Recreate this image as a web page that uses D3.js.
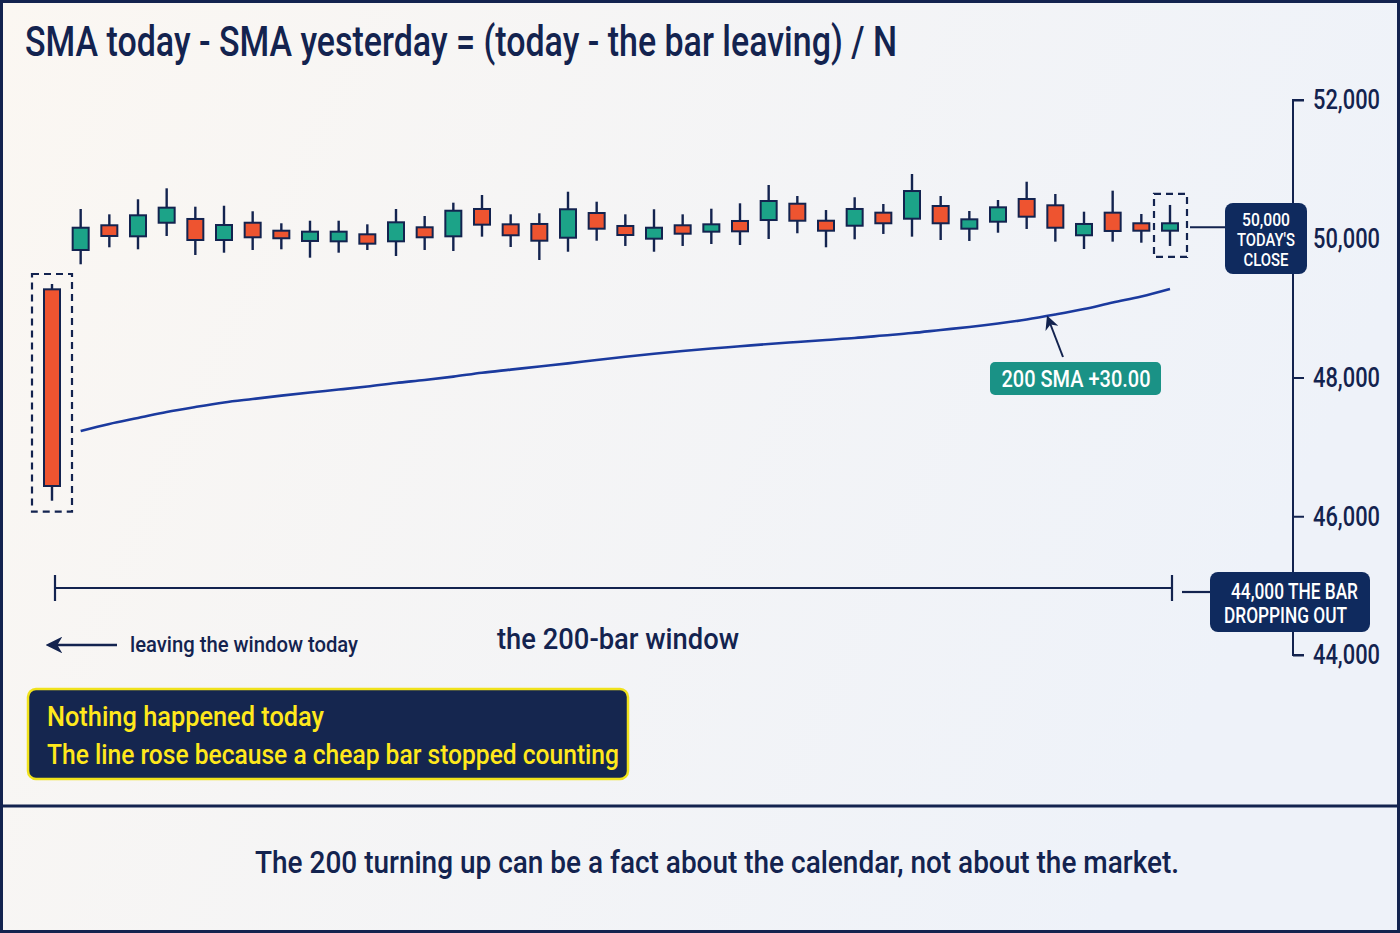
<!DOCTYPE html>
<html>
<head>
<meta charset="utf-8">
<script src="https://cdn.jsdelivr.net/npm/d3@7"></script>
<style>
  html, body { margin: 0; padding: 0; background: #fff; }
  svg { display: block; }
  text { font-family: Roboto, "Liberation Sans", sans-serif; font-weight: 500; }
</style>
</head>
<body>
<svg id="chart"></svg>
<script>
// bar 0 is the old bar leaving the window, bar 39 is today
const opens  = [49271, 49838, 50194, 50035, 50231, 50285, 49982, 50231, 50116, 49968, 49963, 50064, 49963, 50165, 50035, 50429, 50208, 50213, 50015, 50371, 50184, 50001, 50194, 50102, 50256, 50270, 50505, 50260, 50188, 50376, 50289, 50472, 50145, 50246, 50573, 50482, 50050, 50376, 50223, 50116];
const closes = [46436, 50159, 50040, 50338, 50448, 49982, 50198, 50021, 50007, 50102, 50102, 49929, 50237, 50021, 50404, 50203, 50050, 49972, 50425, 50145, 50054, 50159, 50073, 50208, 50107, 50544, 50260, 50116, 50429, 50223, 50688, 50223, 50280, 50453, 50318, 50159, 50213, 50112, 50116, 50223];
const highs  = [49348, 50429, 50352, 50569, 50727, 50462, 50476, 50396, 50223, 50260, 50260, 50208, 50429, 50328, 50520, 50631, 50352, 50367, 50678, 50534, 50352, 50425, 50352, 50433, 50511, 50775, 50616, 50414, 50598, 50501, 50933, 50616, 50400, 50559, 50822, 50645, 50390, 50693, 50357, 50487];
const lows   = [46224, 49632, 49877, 49848, 50040, 49766, 49799, 49838, 49848, 49727, 49799, 49838, 49751, 49838, 49823, 50030, 49881, 49694, 49813, 49972, 49896, 49813, 49896, 49924, 49910, 49996, 50079, 49877, 49992, 50069, 50030, 49982, 49968, 50087, 50141, 49958, 49852, 49958, 49943, 49896];

// 200 SMA, from bar 1 to bar 39
const smaValues = [47229, 47330, 47416, 47503, 47575, 47640, 47690, 47739, 47784, 47826, 47870, 47921, 47964, 48013, 48069, 48114, 48159, 48203, 48252, 48298, 48342, 48382, 48418, 48450, 48483, 48512, 48541, 48569, 48605, 48641, 48685, 48728, 48778, 48836, 48908, 48987, 49081, 49168, 49276];

const tickValues = [44000, 46000, 48000, 50000, 52000];

const titleText = "SMA today - SMA yesterday = (today - the bar leaving) / N";
const closeLabel = ["50,000", "TODAY'S", "CLOSE"];
const dropLabel = ["44,000 THE BAR", "DROPPING OUT"];
const smaLabel = "200 SMA +30.00";
const windowLabel = "the 200-bar window";
const leavingLabel = "leaving the window today";
const noteLines = ["Nothing happened today", "The line rose because a cheap bar stopped counting"];
const footerText = "The 200 turning up can be a fact about the calendar, not about the market.";

const W = 1400, H = 933;
const navy = "#13234f";
const green = "#1ca388";
const red = "#ee5430";

// the reference uses a condensed face, so squeeze each text run to its width
function squeeze(sel, len) {
  return sel.attr("textLength", len).attr("lengthAdjust", "spacingAndGlyphs");
}

const svg = d3.select("#chart").attr("width", W).attr("height", H);

// background
const defs = svg.append("defs");
const bg = defs.append("linearGradient").attr("id", "bg").attr("x1", 0).attr("x2", 1).attr("y1", 0).attr("y2", 0.3);
bg.append("stop").attr("offset", 0).attr("stop-color", "#fbf7f2");
bg.append("stop").attr("offset", 1).attr("stop-color", "#eef2f9");
defs.append("marker").attr("id", "arrow")
    .attr("viewBox", "0 0 10 10").attr("refX", 8).attr("refY", 5)
    .attr("markerWidth", 7).attr("markerHeight", 7).attr("orient", "auto-start-reverse")
  .append("path").attr("d", "M0,0 L10,5 L0,10 L3,5 z").attr("fill", navy);

svg.append("rect").attr("width", W).attr("height", H).attr("fill", "url(#bg)");
svg.append("rect").attr("x", 1.5).attr("y", 1.5).attr("width", W - 3).attr("height", H - 3)
    .attr("fill", "none").attr("stroke", navy).attr("stroke-width", 3);
svg.append("line").attr("x1", 0).attr("x2", W).attr("y1", 806).attr("y2", 806)
    .attr("stroke", navy).attr("stroke-width", 3);

// scales
const x = d3.scaleLinear().domain([0, opens.length - 1]).range([52, 1170]);
const y = d3.scaleLinear().domain([44000, 52000]).range([655, 100]);

// title
squeeze(svg.append("text").attr("x", 25).attr("y", 56)
    .attr("fill", navy).attr("font-size", 42).attr("font-weight", 700)
    .text(titleText), 872);

// axis on the right
const yAxis = d3.axisRight(y).tickValues(tickValues).tickFormat(d3.format(",")).tickSize(11).tickPadding(9);
const axisG = svg.append("g").attr("transform", "translate(1293,0)").call(yAxis);
axisG.select(".domain").attr("stroke", navy).attr("stroke-width", 2).attr("d", `M11,${y(52000)}H0V${y(44000)}H11`);
axisG.selectAll(".tick line").attr("stroke", navy).attr("stroke-width", 2);
axisG.selectAll(".tick text").attr("fill", navy).attr("font-size", 28)
    .attr("font-family", "Roboto, sans-serif").attr("font-weight", 500)
    .attr("textLength", 67).attr("lengthAdjust", "spacingAndGlyphs");

// SMA line
const smaData = smaValues.map((v, i) => ({ i: i + 1, v }));
svg.append("path").datum(smaData)
    .attr("fill", "none").attr("stroke", "#1b3a9e").attr("stroke-width", 2.6)
    .attr("d", d3.line().x(d => x(d.i)).y(d => y(d.v)).curve(d3.curveMonotoneX));

// candles
const bars = opens.map((o, i) => ({ i, o, c: closes[i], h: highs[i], l: lows[i] }));
const bodyW = 16;
const candle = svg.append("g").selectAll("g").data(bars).join("g");
candle.append("line")
    .attr("x1", d => x(d.i)).attr("x2", d => x(d.i))
    .attr("y1", d => y(d.h)).attr("y2", d => y(d.l))
    .attr("stroke", navy).attr("stroke-width", 2.4);
candle.append("rect")
    .attr("x", d => x(d.i) - bodyW / 2).attr("width", bodyW)
    .attr("y", d => y(Math.max(d.o, d.c)))
    .attr("height", d => Math.abs(y(d.o) - y(d.c)))
    .attr("fill", d => d.c >= d.o ? green : red)
    .attr("stroke", navy).attr("stroke-width", 2);

// dashed boxes around the leaving bar and today
const first = bars[0], last = bars[bars.length - 1];
svg.append("rect")
    .attr("x", x(first.i) - 20).attr("width", 40)
    .attr("y", y(first.h) - 10).attr("height", y(first.l) - y(first.h) + 21)
    .attr("fill", "none").attr("stroke", navy).attr("stroke-width", 2.2).attr("stroke-dasharray", "7,5");
svg.append("rect")
    .attr("x", x(last.i) - 16).attr("width", 33)
    .attr("y", y(last.h) - 11).attr("height", y(last.l) - y(last.h) + 22)
    .attr("fill", "none").attr("stroke", navy).attr("stroke-width", 2.2).attr("stroke-dasharray", "7,5");

// today's close label
svg.append("line").attr("x1", x(last.i) + 20).attr("x2", 1226)
    .attr("y1", y(last.c) + 4).attr("y2", y(last.c) + 4)
    .attr("stroke", navy).attr("stroke-width", 2);
svg.append("rect").attr("x", 1225).attr("y", 203).attr("width", 82).attr("height", 71).attr("rx", 8)
    .attr("fill", "#0f2a5e");
const closeLens = [48, 58, 45];
const closeBase = [226, 246, 265.5];
closeLabel.forEach((t, i) => {
  squeeze(svg.append("text").attr("x", 1266).attr("y", closeBase[i]).attr("text-anchor", "middle")
      .attr("fill", "#fff").attr("font-size", 18).text(t), closeLens[i]);
});

// SMA label with arrow
svg.append("line").attr("x1", 1063).attr("y1", 357).attr("x2", 1048).attr("y2", 318)
    .attr("stroke", navy).attr("stroke-width", 2).attr("marker-end", "url(#arrow)");
svg.append("rect").attr("x", 990).attr("y", 362).attr("width", 171).attr("height", 33).attr("rx", 5)
    .attr("fill", "#1a9286");
squeeze(svg.append("text").attr("x", 1076).attr("y", 387).attr("text-anchor", "middle")
    .attr("fill", "#fff").attr("font-size", 24).text(smaLabel), 149);

// 200-bar window bracket
const bY = 588;
const bracket = svg.append("g").attr("stroke", navy).attr("stroke-width", 2.2);
bracket.append("line").attr("x1", 55).attr("x2", 1172).attr("y1", bY).attr("y2", bY);
bracket.append("line").attr("x1", 55).attr("x2", 55).attr("y1", bY - 13).attr("y2", bY + 13);
bracket.append("line").attr("x1", 1172).attr("x2", 1172).attr("y1", bY - 13).attr("y2", bY + 13);
bracket.append("line").attr("x1", 1182).attr("x2", 1212).attr("y1", 592).attr("y2", 592);

svg.append("rect").attr("x", 1210).attr("y", 572).attr("width", 160).attr("height", 60).attr("rx", 8)
    .attr("fill", "#0f2a5e");
const dropX = [1231, 1224], dropLens = [127, 123], dropBase = [599, 623];
dropLabel.forEach((t, i) => {
  squeeze(svg.append("text").attr("x", dropX[i]).attr("y", dropBase[i])
      .attr("fill", "#fff").attr("font-size", 22).text(t), dropLens[i]);
});

squeeze(svg.append("text").attr("x", 497).attr("y", 649)
    .attr("fill", navy).attr("font-size", 30).text(windowLabel), 242);

svg.append("line").attr("x1", 117).attr("x2", 49).attr("y1", 645).attr("y2", 645)
    .attr("stroke", navy).attr("stroke-width", 2.4).attr("marker-end", "url(#arrow)");
squeeze(svg.append("text").attr("x", 130).attr("y", 652)
    .attr("fill", navy).attr("font-size", 22).text(leavingLabel), 228);

// note box
svg.append("rect").attr("x", 28).attr("y", 689).attr("width", 600).attr("height", 90).attr("rx", 8)
    .attr("fill", "#15264f").attr("stroke", "#f0e21c").attr("stroke-width", 2.5);
const noteLens = [277, 572], noteBase = [726, 763.5];
noteLines.forEach((t, i) => {
  squeeze(svg.append("text").attr("x", 47).attr("y", noteBase[i])
      .attr("fill", "#ffe81c").attr("font-size", 28).text(t), noteLens[i]);
});

// footer
squeeze(svg.append("text").attr("x", 255).attr("y", 873)
    .attr("fill", navy).attr("font-size", 32).text(footerText), 924);
</script>
</body>
</html>
